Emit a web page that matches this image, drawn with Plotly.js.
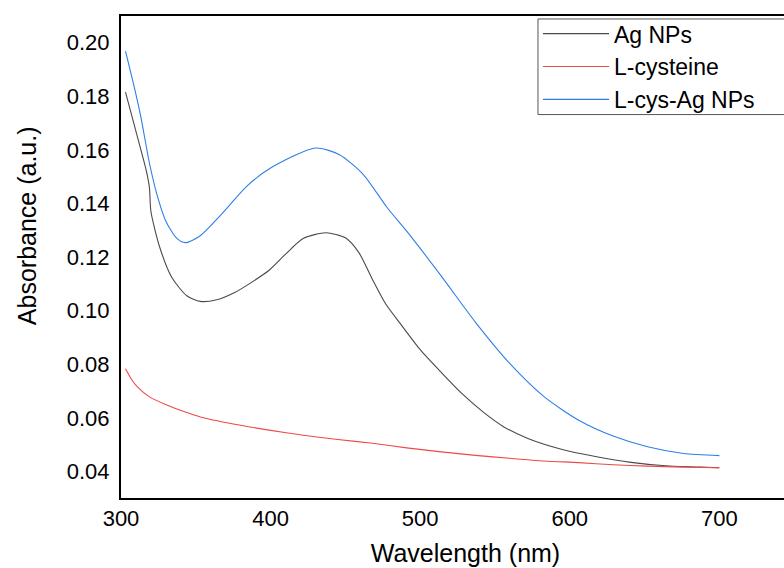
<!DOCTYPE html>
<html>
<head>
<meta charset="utf-8">
<script src="https://cdn.plot.ly/plotly-3.0.1.min.js"></script>
<style>
  html, body { margin: 0; padding: 0; overflow: hidden; background: #fff; }
  #chart { width: 830px; height: 568px; }
</style>
</head>
<body>
<div id="chart"></div>
<script>
// Series names
const seriesNames = ["Ag NPs", "L-cysteine", "L-cys-Ag NPs"];

// Ag NPs (black)
const agX = [303, 310, 317, 319, 320, 326, 334, 344, 353, 364, 376, 387, 399, 410, 422, 437, 450, 459, 468, 477, 487, 500, 514, 528, 542, 556, 572, 595, 618, 641, 664, 687, 700];
const agY = [0.1815, 0.1669, 0.1520, 0.1460, 0.1370, 0.1235, 0.1124, 0.1056, 0.1035, 0.1041, 0.1068, 0.1105, 0.1151, 0.1211, 0.1270, 0.1291, 0.1272, 0.1217, 0.1118, 0.1025, 0.0950, 0.0855, 0.0771, 0.0691, 0.0623, 0.0567, 0.0524, 0.0483, 0.0456, 0.0435, 0.0422, 0.0417, 0.0415];

// L-cysteine (red)
const cysX = [303, 307, 311, 319, 331, 344, 353, 376, 399, 422, 445, 468, 491, 514, 537, 560, 583, 606, 629, 652, 676, 700];
const cysY = [0.0784, 0.0745, 0.0716, 0.0679, 0.0648, 0.0621, 0.0604, 0.0577, 0.0555, 0.0536, 0.0520, 0.0506, 0.0489, 0.0474, 0.0461, 0.0450, 0.0440, 0.0434, 0.0426, 0.0421, 0.0417, 0.0415];

// L-cys-Ag NPs (blue)
const lcysX = [303, 308, 313, 319, 324, 330, 337, 343, 353, 368, 384, 400, 430, 446, 462, 478, 491, 514, 537, 560, 583, 606, 629, 652, 676, 700];
const lcysY = [0.1968, 0.1854, 0.1730, 0.1551, 0.1434, 0.1334, 0.1272, 0.1254, 0.1280, 0.1365, 0.1464, 0.1532, 0.1607, 0.1582, 0.1508, 0.1384, 0.1297, 0.1130, 0.0957, 0.0803, 0.0679, 0.0592, 0.0533, 0.0493, 0.0468, 0.0460];

// Axis ticks
const xTicks = [300, 400, 500, 600, 700];
const yTicks = [0.04, 0.06, 0.08, 0.10, 0.12, 0.14, 0.16, 0.18, 0.20];
const yTickText = ["0.04", "0.06", "0.08", "0.10", "0.12", "0.14", "0.16", "0.18", "0.20"];

const xTitle = "Wavelength (nm)";
const yTitle = "Absorbance (a.u.)";

const FONT = "Liberation Sans, Arial, Helvetica, sans-serif";

const traces = [
  { x: agX, y: agY, name: seriesNames[0], type: "scatter", mode: "lines",
    line: { color: "#4a4a4a", width: 1.1, shape: "spline", smoothing: 0.7 } },
  { x: cysX, y: cysY, name: seriesNames[1], type: "scatter", mode: "lines",
    line: { color: "#ea4a48", width: 1.1, shape: "spline", smoothing: 0.7 } },
  { x: lcysX, y: lcysY, name: seriesNames[2], type: "scatter", mode: "lines",
    line: { color: "#2e7fe6", width: 1.1, shape: "spline", smoothing: 0.7 } }
];

const layout = {
  width: 830, height: 568,
  margin: { l: 121, r: 20, t: 14, b: 70 },
  paper_bgcolor: "#fff", plot_bgcolor: "#fff",
  font: { family: FONT, color: "#000", size: 22 },
  showlegend: true,
  legend: {
    x: 0.6052, y: 1.008, xanchor: "left", yanchor: "top",
    borderwidth: 0, bgcolor: "rgba(0,0,0,0)",
    font: { family: FONT, size: 23, color: "#000" },
    itemwidth: 66, tracegroupgap: 0
  },
  shapes: [{
    type: "rect", xref: "paper", yref: "paper",
    x0: 0.6052, x1: 1.2, y0: 0.7955, y1: 0.9938,
    line: { color: "#555", width: 1 }, fillcolor: "#fff", layer: "above"
  }],
  xaxis: {
    range: [300, 760.6], tickvals: xTicks, ticktext: xTicks.map(String),
    showgrid: false, zeroline: false, ticks: "",
    showline: true, linecolor: "#000", linewidth: 2, mirror: true,
    tickfont: { family: FONT, size: 22, color: "#000" },
    title: { text: xTitle, font: { family: FONT, size: 25, color: "#000" }, standoff: 14 },
    automargin: false
  },
  yaxis: {
    range: [0.0302, 0.2099], tickvals: yTicks, ticktext: yTickText,
    showgrid: false, zeroline: false, ticks: "",
    showline: true, linecolor: "#000", linewidth: 2, mirror: false,
    ticklabelstandoff: 5,
    tickfont: { family: FONT, size: 22, color: "#000" },
    title: { text: "" },
    automargin: false
  },
  annotations: [{
    text: yTitle, xref: "paper", yref: "paper",
    x: -0.1364, y: 0.564, xanchor: "center", yanchor: "middle",
    textangle: -90, showarrow: false,
    font: { family: FONT, size: 25, color: "#000" }
  }]
};

Plotly.newPlot("chart", traces, layout, { displayModeBar: false, staticPlot: true });
</script>
</body>
</html>
